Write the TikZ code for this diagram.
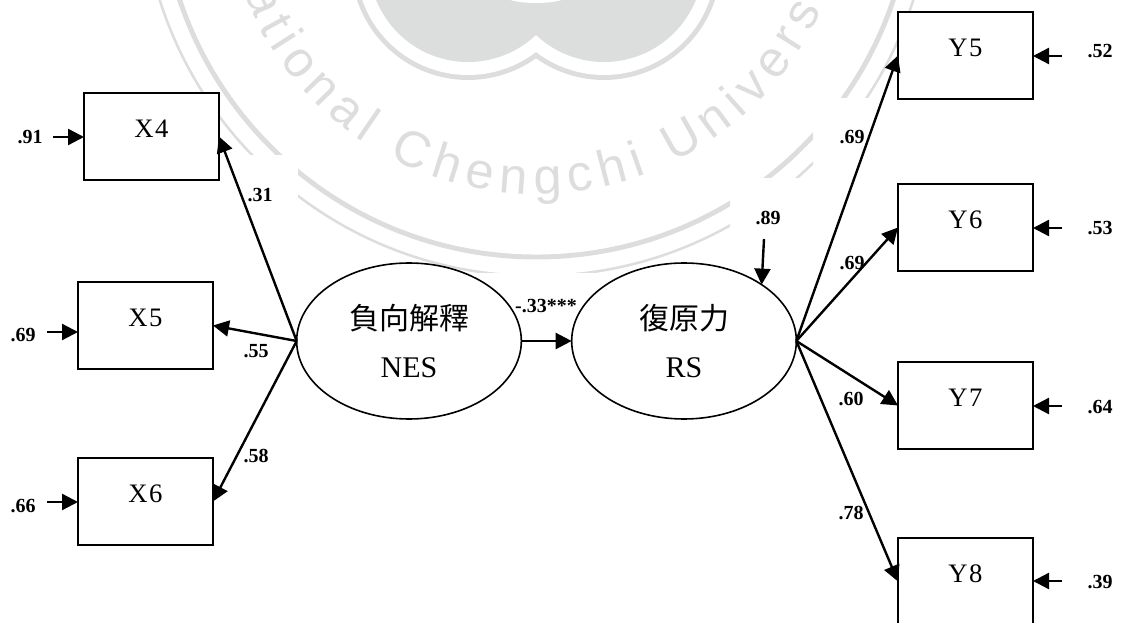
\documentclass[tikz,border=0pt]{standalone}
\usepackage{fontspec}
\setmainfont{Liberation Serif}
\newfontfamily\cjk{Noto Sans CJK TC}
\newfontfamily\wmfont{Liberation Sans}
\usetikzlibrary{arrows.meta,shapes.geometric,decorations.text}
\definecolor{wmgray}{HTML}{DCDDDD}
\begin{document}
\begin{tikzpicture}[x=0.75pt,y=-0.75pt,
    obsbox/.style={draw,fill=white,line width=1.5pt,minimum width=101.25pt,minimum height=65.25pt,
      inner sep=0pt,outer sep=0pt,font=\fontsize{20}{24}\selectfont\addfontfeature{LetterSpace=6},
      text height=13pt,text depth=11pt},
    latent/.style={draw,ellipse,line width=1.2pt,minimum width=168.5pt,minimum height=117pt,
      inner sep=0pt,outer sep=0pt,align=center,font=\fontsize{22.5}{36}\selectfont},
    coef/.style={inner sep=0pt,font=\bfseries\fontsize{15}{18}\selectfont},
    conn/.style={line width=1.8pt,-{Triangle[length=12pt,width=12pt]}}]
  \useasboundingbox (0,0) rectangle (1121,623);
  \clip (0,0) rectangle (1121,623);
  % watermark
  \begin{scope}
    \clip (0,0) -- (1121,0) -- (1121,98) -- (813,98) -- (813,178) -- (730,178) -- (730,273)
      -- (298,273) -- (298,155) -- (0,155) -- cycle;
    \draw[wmgray,line width=3.7pt] (536.5,-119) circle (376);
    \draw[wmgray,line width=1.9pt] (536.5,-119) circle (395);
    \path[decorate,decoration={text along path,text align=fit to path,
        text={|\color{wmgray}\wmfont\fontsize{38}{38}\selectfont|National Chengchi University}}]
      (536.5,-119) ++(167:313) arc[start angle=167,end angle=11,radius=313];
    \foreach \x in {468,604} {
      \fill[wmgray] (\x,-37) circle (117);
    }
    \foreach \x in {468,604} {
      \fill[white] (\x,-37) circle (112);
    }
    \foreach \x in {468,604} {
      \fill[wmgray] (\x,-37) circle (99);
    }
    \fill[white] (536,-7) ellipse (36 and 10);
  \end{scope}
  % measured variables
  \foreach \name/\x/\y in {X4/151.5/136.5,X5/145.5/325.5,X6/145.5/501.5,
      Y5/965.5/55.5,Y6/965.5/227.5,Y7/965.5/405.5,Y8/965.5/581.5} {
    \node[obsbox] (\name) at (\x,\y) {\name};
  }
  % latent variables
  \node[latent] (NES) at (409,341) {{\cjk 負向解釋}\\NES};
  \node[latent] (RS) at (684,341) {{\cjk 復原力}\\RS};
  % loadings and path
  \draw[conn] (NES.west) -- (X4.east);
  \draw[conn] (NES.west) -- (X5.east);
  \draw[conn] (NES.west) -- (X6.east);
  \draw[conn] (RS.east) -- (Y5.west);
  \draw[conn] (RS.east) -- (Y6.west);
  \draw[conn] (RS.east) -- (Y7.west);
  \draw[conn] (RS.east) -- (Y8.west);
  \draw[conn] (NES.east) -- (RS.west);
  % residuals
  \foreach \name/\val/\tx/\ty/\sx/\sy/\side in {X4/.91/30/137/53/137/east,X5/.69/23/335/47/332/east,
      X6/.66/23/506/47/502/east,Y5/.52/1100/51/1062/56/west,Y6/.53/1100/228/1062/228/west,
      Y7/.64/1100/407/1062/406/west,Y8/.39/1100/582/1062/581/west} {
    \node[coef] (lab\name) at (\tx,\ty) {\val};
    \coordinate (res\name) at (\sx,\sy);
  }
  \foreach \name in {X4,X5,X6} {
    \draw[conn] (res\name) -- (res\name -| \name.west);
  }
  \foreach \name in {Y5,Y6,Y7,Y8} {
    \draw[conn] (res\name) -- (res\name -| \name.east);
  }
  \node[coef] (labRS) at (768,218) {.89};
  \coordinate (resRS) at (764,239);
  \draw[conn] (resRS) -- (RS.36);
  % coefficients
  \foreach \name/\val/\x/\y in {pX4/.31/260/195,pX5/.55/256/351,pX6/.58/256/456,
      pY5/.69/852/137,pY6/.69/852/263,pY7/.60/851/399,pY8/.78/851/513,pRS/-.33***/546/306} {
    \node[coef] (\name) at (\x,\y) {\val};
  }
\end{tikzpicture}
\end{document}
